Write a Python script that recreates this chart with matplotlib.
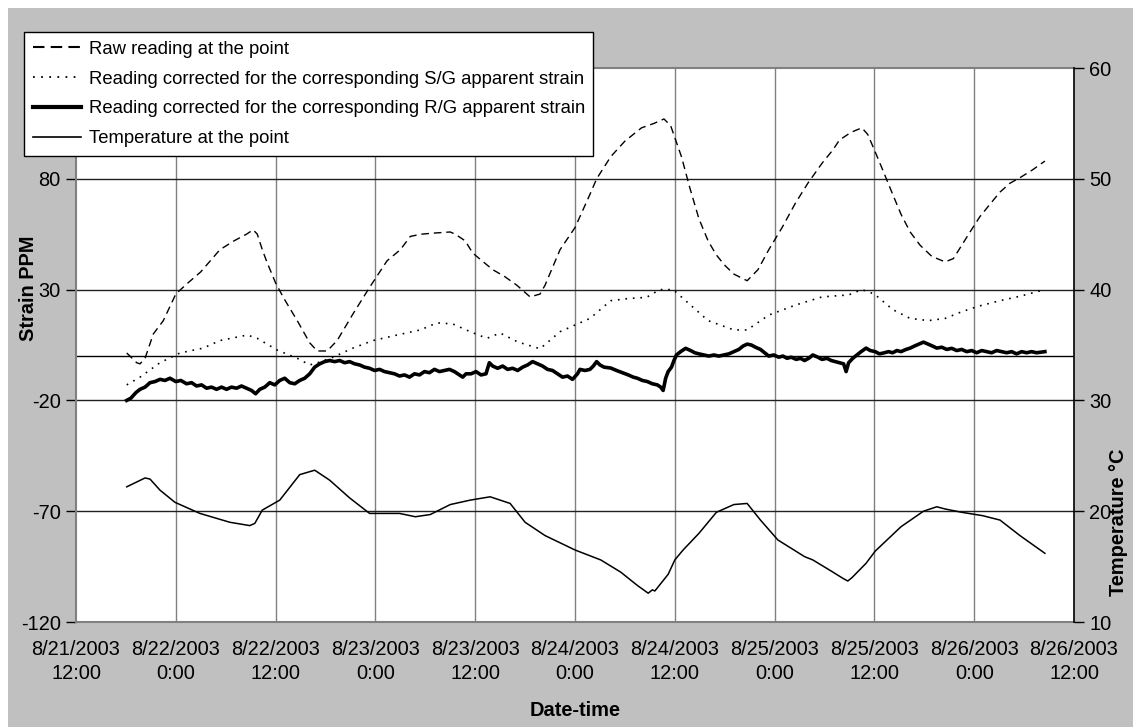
import matplotlib
matplotlib.use('Agg')
import matplotlib.pyplot as plt
from matplotlib.patches import Rectangle
from matplotlib.lines import Line2D
import pandas as pd

plt.rcParams['font.family'] = ['Liberation Sans', 'DejaVu Sans']

START = pd.Timestamp('2003-08-21 12:00')

# hours after 8/21/2003 12:00 and values
raw_h = [6.1, 7.3, 7.7, 8.3, 9.3, 10.5, 12.0, 13.3, 15.0, 17.3, 19.0, 20.5, 21.3, 21.8, 22.4, 23.0,
         24.0, 25.0, 26.6, 28.1, 29.0, 30.2, 31.4, 33.3, 35.3, 37.4, 39.0, 40.2, 41.5, 43.0, 45.0,
         45.6, 46.8, 47.7, 50.1, 51.5, 53.0, 54.6, 55.8, 56.4, 58.2, 60.0, 61.8, 62.6, 64.3, 66.0,
         68.0, 69.5, 70.7, 71.5, 72.8, 73.8, 74.9, 76.0, 77.0, 78.0, 79.1, 80.7, 82.0, 83.3, 84.9,
         86.5, 88.0, 89.7, 91.0, 91.8, 93.2, 94.5, 95.2, 96.0, 97.0, 98.2, 99.2, 100.3, 101.5,
         102.9, 104.5, 105.5, 106.5, 107.5, 108.7, 110.0, 111.1, 112.3, 113.5, 115.0, 116.5]
raw_v = [1.4, -3, -3.5, -1, 10, 16, 28, 32.5, 38, 48, 52, 55, 57, 55, 48, 42,
         33, 26, 16, 6, 2.3, 2.3, 7, 19, 31, 43, 48, 54, 55, 55.5, 56,
         55, 52, 46.5, 39, 36, 32, 26.7, 28, 32, 48, 58, 73, 80, 90, 97,
         103, 105, 107, 104, 90, 76, 62, 52, 45.6, 41, 37, 34, 39, 48, 58,
         69, 78, 87, 93, 97.5, 101, 103, 100, 93, 84, 73, 64, 56, 50,
         45, 42.5, 44, 50, 56, 63, 69, 74, 78, 80.5, 84, 88]

sg_h = [6.1, 7.7, 10.1, 12.5, 15.3, 17.3, 20.6, 21.8, 24.2, 26.6, 28.1, 29.3, 30.9, 33.3, 35.7,
        38.6, 41.4, 43.4, 45.3, 47.4, 49.4, 51.0, 53.1, 55.8, 58.2, 61.8, 64.3, 66.5, 68.6, 70.2,
        71.8, 73.9, 76.0, 79.1, 80.7, 83.3, 86.5, 89.7, 92.9, 94.5, 96.0, 98.2, 100.3, 102.5,
        104.5, 106.5, 108.5, 111.1, 113.5, 116.5]
sg_v = [-13, -9.5, -3, 1.4, 3.6, 7, 9.5, 8, 2.7, -1, -4, -2.7, -0.5, 3.6, 7,
        9.5, 11.8, 15, 14.5, 11, 8, 10.4, 6.4, 3.3, 11, 17, 25, 26, 26.5, 30,
        30, 23, 16, 11.8, 11.8, 18.5, 23, 26.7, 27.6, 30, 28, 21, 17, 16,
        17, 20, 22.5, 25, 27, 30]

rg_h = [6.1, 6.6, 7.2, 7.7, 8.3, 8.9, 9.5, 10.1, 10.7, 11.3, 12.0, 12.6, 13.3, 13.9, 14.5, 15.1,
        15.7, 16.3, 16.9, 17.5, 18.1, 18.7, 19.3, 19.9, 20.5, 21.1, 21.6, 22.1, 22.7, 23.3, 23.9,
        24.5, 25.1, 25.7, 26.3, 26.9, 27.5, 28.1, 28.7, 29.3, 29.9, 30.5, 31.1, 31.7, 32.3, 32.9,
        33.5, 34.1, 34.7, 35.3, 35.9, 36.5, 37.1, 37.7, 38.3, 38.9, 39.5, 40.1, 40.7, 41.3, 41.9,
        42.5, 43.1, 43.7, 44.3, 44.9, 45.5, 46.1, 46.5, 46.9, 47.5, 48.1, 48.7, 49.3, 49.7, 50.1,
        50.7, 51.3, 51.9, 52.5, 53.1, 53.7, 54.3, 54.9, 55.5, 56.1, 56.7, 57.3, 57.9, 58.5, 59.1,
        59.7, 60.3, 60.6, 61.2, 61.8, 62.2, 62.6, 63.0, 63.5, 64.3, 65.0, 65.7, 66.4, 67.0, 67.5,
        68.1, 68.7, 69.3, 69.9, 70.3, 70.6, 70.9, 71.2, 71.6, 71.9, 72.2, 72.7, 73.3, 73.9, 74.4,
        74.9, 75.5, 76.1, 76.7, 77.3, 77.9, 78.5, 79.1, 79.7, 80.2, 80.7, 81.2, 81.7, 82.3, 82.8,
        83.3, 83.9, 84.5, 85.0, 85.5, 86.0, 86.6, 87.1, 87.6, 88.1, 88.6, 89.2, 89.7, 90.3, 90.8,
        91.3, 91.8, 92.3, 92.6, 92.9, 93.4, 93.9, 94.4, 95.0, 95.5, 96.1, 96.6, 97.1, 97.7, 98.2,
        98.7, 99.2, 99.8, 100.3, 100.8, 101.4, 101.9, 102.4, 103.0, 103.5, 104.1, 104.7, 105.3,
        105.9, 106.5, 107.1, 107.7, 108.3, 108.9, 109.5, 110.1, 110.7, 111.3, 111.9, 112.5, 113.1,
        113.7, 114.3, 114.9, 115.5, 116.5]
rg_v = [-20, -19, -16.5, -15, -14, -12, -11.5, -10.5, -11, -10, -11.5, -11, -12.5, -12, -13.5, -13,
        -14.5, -14, -15, -14, -15, -14, -14.5, -13.5, -14.5, -15.5, -17, -15, -14, -12, -13,
        -11, -10, -12, -12.5, -11, -10, -8, -5, -3.5, -2.5, -2, -2.5, -2, -3, -2.5,
        -3.5, -4, -5, -5.5, -6.5, -6, -7, -7.5, -8, -9, -8.5, -9.5, -8, -8.5, -7,
        -7.5, -6, -7, -6.5, -6, -7, -8.5, -9.5, -8, -8, -7, -8.5, -8, -3, -4.5,
        -5.5, -4.5, -6, -5.5, -6.5, -5, -4, -2.5, -3.5, -4.5, -6, -6.5, -8, -9.5, -9,
        -10.5, -8, -6, -6.5, -6, -4.5, -2.5, -4, -5, -5.4, -6.5, -7.5, -8.5, -9.5, -10,
        -11, -11.5, -12.5, -13, -14, -15.5, -10, -7, -5, -2, 0.5, 2, 3.5, 2.5, 1.5,
        1, 0.5, 0, 0.5, 0, 0.5, 1, 2, 3, 4.5, 5.4, 5, 4, 3, 1.5,
        0, 0.5, -0.5, 0, -1, -0.5, -1.5, -1, -2, -1, 0.5, -0.5, -1.5, -1, -2,
        -2.5, -3, -3.5, -7, -3, -1, 0.5, 2, 3.6, 2.5, 2, 1, 1.4, 2, 1.5,
        2.5, 2, 3, 3.6, 4.5, 5.5, 6.3, 5.5, 4.5, 3.6, 4, 3, 3.5,
        2.5, 3, 2, 2.5, 1.5, 2.5, 2, 1.5, 2.5, 2, 1.5, 2, 1,
        2, 1.5, 2, 1.5, 2]

temp_h = [6.1, 8.3, 8.9, 10.1, 11.9, 14.9, 18.5, 20.9, 21.5, 22.4, 24.5, 26.9, 28.7, 30.5, 32.9,
          35.3, 38.9, 40.8, 42.6, 45.0, 47.4, 49.8, 51.0, 52.2, 54.0, 56.4, 60.0, 63.1, 65.5,
          67.5, 68.8, 69.3, 69.6, 71.2, 72.0, 73.0, 74.9, 77.0, 79.1, 80.7, 82.3, 84.4, 87.6,
          88.6, 90.8, 92.3, 92.8, 93.3, 95.0, 95.3, 96.1, 99.2, 101.9, 103.5, 104.5, 106.5,
          109.0, 111.1, 113.5, 116.5]
temp_v = [22.2, 23.0, 22.9, 21.9, 20.8, 19.8, 19.0, 18.7, 18.9, 20.1, 21.0, 23.3, 23.7, 22.8, 21.2,
          19.8, 19.8, 19.5, 19.7, 20.6, 21.0, 21.3, 21.0, 20.7, 19.0, 17.8, 16.5, 15.6, 14.5,
          13.3, 12.6, 12.9, 12.8, 14.3, 15.6, 16.5, 18.0, 19.9, 20.6, 20.7, 19.2, 17.4, 15.9,
          15.6, 14.6, 13.9, 13.7, 14.0, 15.3, 15.6, 16.4, 18.6, 20.0, 20.4, 20.2, 19.9,
          19.6, 19.2, 17.8, 16.2]

xtick_labels = ['8/21/2003\n12:00', '8/22/2003\n0:00', '8/22/2003\n12:00', '8/23/2003\n0:00',
                '8/23/2003\n12:00', '8/24/2003\n0:00', '8/24/2003\n12:00', '8/25/2003\n0:00',
                '8/25/2003\n12:00', '8/26/2003\n0:00', '8/26/2003\n12:00']
left_ticks = [-120, -70, -20, 30, 80, 130]
left_ticklabels = ['-120', '-70', '-20', '30', '80', '130']
right_ticks = [10, 20, 30, 40, 50, 60]

legend_labels = ['Raw reading at the point',
                 'Reading corrected for the corresponding S/G apparent strain',
                 'Reading corrected for the corresponding R/G apparent strain',
                 'Temperature at the point']


def to_dt(hours):
    return [START + pd.Timedelta(hours=h) for h in hours]


W, H = 1133, 727
FS = 14.4
fig = plt.figure(figsize=(W / 100, H / 100), dpi=100, facecolor='white')
fig.patches.append(Rectangle((8 / W, 0), 1 - 8 / W, 1 - 8 / H, transform=fig.transFigure,
                             facecolor='#c0c0c0', edgecolor='none', zorder=-10))

L, R, T, B = 76, 1074, 68, 622
ax = fig.add_axes([L / W, 1 - B / H, (R - L) / W, (B - T) / H])
ax.set_facecolor('white')

xticks = [START + pd.Timedelta(hours=12 * i) for i in range(len(xtick_labels))]
ax.set_xlim(xticks[0], xticks[-1])
ax.set_ylim(-120, 130)

for xt in xticks[1:-1]:
    ax.axvline(xt, color='#808080', lw=1.0, zorder=0)
for yt in left_ticks[1:-1]:
    ax.axhline(yt, color='#202020', lw=1.0, zorder=0)
ax.axhline(0, color='black', lw=1.0, zorder=0)

ax.plot(to_dt(raw_h), raw_v, color='black', lw=1.0, ls=(0, (5.5, 3.5)))
ax.plot(to_dt(sg_h), sg_v, color='black', lw=1.2, ls=(0, (1, 3.5)))
ax.plot(to_dt(rg_h), rg_v, color='black', lw=2.6)

ax.set_xticks(xticks)
ax.set_xticklabels(xtick_labels, fontsize=FS, linespacing=1.3)
ax.tick_params(axis='x', length=0, pad=13)
ax.set_yticks(left_ticks)
ax.set_yticklabels(left_ticklabels, fontsize=FS)
ax.tick_params(axis='y', direction='out', length=7, width=1, color='black', pad=4)
for s in ['left', 'top', 'bottom']:
    ax.spines[s].set_color('#808080')
    ax.spines[s].set_linewidth(1.5)
ax.spines['right'].set_visible(False)

ax2 = ax.twinx()
ax2.set_ylim(10, 60)
ax2.plot(to_dt(temp_h), temp_v, color='black', lw=1.1)
ax2.set_yticks(right_ticks)
ax2.set_yticklabels([str(v) for v in right_ticks], fontsize=FS)
ax2.tick_params(axis='y', direction='out', length=7, width=1, color='black', pad=4)
for s in ['left', 'top', 'bottom']:
    ax2.spines[s].set_visible(False)
ax2.spines['right'].set_color('black')
ax2.spines['right'].set_linewidth(1.2)

fig.text(28 / W, 1 - 288 / H, 'Strain PPM', rotation=90, ha='center', va='center',
         fontsize=FS, fontweight='bold')
fig.text(1119 / W, 1 - 522 / H, 'Temperature \u00b0C', rotation=90, ha='center', va='center',
         fontsize=FS, fontweight='bold')
fig.text(575 / W, 1 - 710 / H, 'Date-time', ha='center', va='center',
         fontsize=FS, fontweight='bold')

handles = [Line2D([], [], color='black', lw=1.5, ls=(0, (5.5, 3))),
           Line2D([], [], color='black', lw=1.3, ls=(0, (1, 3.5))),
           Line2D([], [], color='black', lw=3),
           Line2D([], [], color='black', lw=1.2)]
leg = fig.legend(handles, legend_labels, loc='upper left', bbox_to_anchor=(24 / W, 1 - 32 / H),
                 fontsize=13.35, frameon=True, fancybox=False, edgecolor='black', framealpha=1,
                 borderpad=0.46, labelspacing=0.7, handlelength=2.6, handletextpad=0.43,
                 borderaxespad=0)
leg.get_frame().set_linewidth(1.0)
leg.set_zorder(20)

fig.savefig('out.png', dpi=100, facecolor=fig.get_facecolor())
